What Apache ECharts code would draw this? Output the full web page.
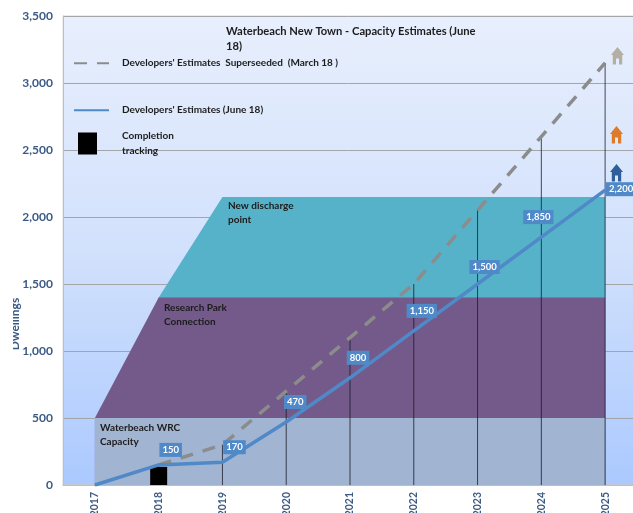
<!DOCTYPE html>
<html>
<head>
<meta charset="utf-8">
<style>html,body{margin:0;padding:0;background:#fff}#chart{width:633px;height:513px}</style>
<script src="https://cdn.jsdelivr.net/npm/echarts@6/dist/echarts.min.js"></script>
</head>
<body>
<div id="chart"></div>
<script>
// Housing trajectory for Waterbeach New Town against infrastructure capacity bands
const years = ['2017','2018','2019','2020','2021','2022','2023','2024','2025'];
const juneEstimates = [0,150,170,470,800,1150,1500,1850,2200];
const marchEstimates = [null,150,300,700,1100,1500,2050,2600,3150];
const completions = [null,135,null,null,null,null,null,null,null];
const stemTops = [null,150,300,700,1100,1500,2050,2600,3150];
const wrcCapacity = [500,500,500,500,500,500,500,500,500];
const researchPark = [500,1400,1400,1400,1400,1400,1400,1400,1400];
const newDischarge = [null,1400,2150,2150,2150,2150,2150,2150,2150];

const labelOffsets = [null,[12,-15],[12,-15],[9,-20],[8,-20],[8,-20],[7,-17],[-3,-20],[16,-1]];

const titleText = 'Waterbeach New Town - Capacity Estimates (June\n18)';
const marchName = "Developers' Estimates  Superseeded  (March 18 )";
const juneName = "Developers' Estimates (June 18)";
const completionName = 'Completion\ntracking';

const FONT = 'Lato, "Open Sans", sans-serif';
const AXIS_BLUE = '#3C5A86';
const HOUSE = [[6.5,0],[13,8],[11.2,8],[11.2,17.5],[8,17.5],[8,11.5],[5,11.5],[5,17.5],[1.8,17.5],[1.8,8],[0,8]];

const chart = echarts.init(document.getElementById('chart'), null, {renderer:'canvas'});

const bandSeries = (name, data, color, z) => ({
  name, type:'line', data, z, symbol:'none', silent:true,
  lineStyle:{width:0}, itemStyle:{color},
  areaStyle:{color, opacity:1}
});

const legendAt = (name, left, top, itemWidth, itemHeight, textPadding, extra) => Object.assign({
  data:[name], left, top, orient:'vertical', padding:0,
  itemWidth, itemHeight, selectedMode:false,
  textStyle:{fontFamily:FONT, fontWeight:'bold', fontSize:10, color:'#1c1c1c', lineHeight:14.5,
             padding:textPadding}
}, extra);

const bandNote = (text, x, y) => ({
  type:'text', x, y, z:20,
  style:{text, fontFamily:FONT, fontWeight:'bold', fontSize:10, lineHeight:14, fill:'#1c1c1c'}
});

const house = (x, y, fill) => ({
  type:'polygon', x, y, z:20,
  shape:{points:HOUSE},
  style:{fill}
});

chart.setOption({
  animation:false,
  title:{
    text:titleText, left:226, top:24, padding:0,
    textStyle:{fontFamily:FONT, fontWeight:'bold', fontSize:11.2, lineHeight:15, color:'#1c1c1c'}
  },
  legend:[
    legendAt(marchName, 73, 56, 35, 12, [0,0,0,8], {itemStyle:{opacity:0}}),
    legendAt(juneName, 73, 103, 35, 12, [0,0,0,8], {itemStyle:{opacity:0}}),
    legendAt(completionName, 78, 128, 19, 22, [2,0,0,20], {icon:'rect'})
  ],
  grid:{
    left:63, width:574, top:16, height:469, show:true, outerBoundsMode:'none',
    borderColor:'#D6D8DC', borderWidth:1,
    backgroundColor:{type:'linear', x:0, y:0, x2:0, y2:1, colorStops:[
      {offset:0, color:'#E8EFFD'},
      {offset:0.5, color:'#D2E1FC'},
      {offset:1, color:'#ABC9FF'}
    ]}
  },
  xAxis:{
    type:'category', data:years, boundaryGap:true,
    axisTick:{show:false},
    axisLine:{show:true, lineStyle:{color:'#C4C6CA', width:1.5}},
    axisLabel:{rotate:90, margin:7, interval:0, fontFamily:FONT, fontWeight:'bold', fontSize:10.5, color:AXIS_BLUE}
  },
  yAxis:{
    type:'value', min:0, max:3500, interval:500,
    axisTick:{show:false},
    axisLine:{show:true, lineStyle:{color:'#BDBFC3', width:1}},
    splitLine:{show:true, lineStyle:{color:'#A3A5A8', width:1}},
    axisLabel:{margin:10, fontFamily:FONT, fontWeight:'bold', fontSize:12, color:AXIS_BLUE,
      formatter:v => v.toLocaleString('en-US')}
  },
  series:[
    bandSeries('New discharge point', newDischarge, '#55B2C9', 2),
    bandSeries('Research Park Connection', researchPark, '#735A8A', 3),
    bandSeries('Waterbeach WRC Capacity', wrcCapacity, '#A1B4D2', 4),
    {
      name:'Drop lines', type:'custom', z:6, silent:true,
      data:stemTops.map((v,i) => [i,v]),
      encode:{x:0, y:1},
      renderItem(params, api){
        if (api.value(1) == null || isNaN(api.value(1))) return null;
        const a = api.coord([api.value(0), 0]);
        const b = api.coord([api.value(0), api.value(1)]);
        return {type:'line', shape:{x1:a[0], y1:a[1], x2:b[0], y2:b[1]},
                style:{stroke:'rgba(25,25,40,0.78)', lineWidth:1}};
      }
    },
    {
      name:completionName, type:'bar', data:completions, barWidth:17, z:7,
      itemStyle:{color:'#000', borderRadius:0}
    },
    {
      name:marchName, type:'line', data:marchEstimates, z:8, symbol:'none', connectNulls:false,
      itemStyle:{color:'#8C8C8C'},
      lineStyle:{color:'#8C8C8C', width:3.5, type:[13,10]}
    },
    {
      name:juneName, type:'line', z:9, symbol:'circle', symbolSize:1, showAllSymbol:true,
      itemStyle:{color:'#5089C8'},
      lineStyle:{color:'#5089C8', width:3.5},
      data:juneEstimates.map((value,i) => ({
        value,
        label:{
          show:labelOffsets[i] !== null,
          position:'inside',
          offset:labelOffsets[i] || [0,0],
          formatter:p => p.value.toLocaleString('en-US'),
          color:'#fff', fontFamily:FONT, fontWeight:'bold', fontSize:9.5,
          backgroundColor:'#5089C8', padding:[2,3]
        }
      }))
    }
  ],
  graphic:[
    // Axis title, trimmed along its left side by the strip laid over it
    {type:'text', x:9, y:324, rotation:Math.PI/2, z:20,
     style:{text:'Dwellings', fontFamily:FONT, fontWeight:'bold', fontSize:12, fill:AXIS_BLUE,
            align:'center', verticalAlign:'top'}},
    {type:'rect', shape:{x:0, y:295, width:13, height:60}, style:{fill:'#fff'}, z:21},
    bandNote('New discharge\npoint', 228, 199),
    bandNote('Research Park\nConnection', 164, 301),
    bandNote('Waterbeach WRC\nCapacity', 100, 421),
    house(611, 47, '#B4AFA2'),
    house(610, 126, '#DD7B28'),
    house(610, 164, '#2F5F9B')
  ]
});
</script>
</body>
</html>
